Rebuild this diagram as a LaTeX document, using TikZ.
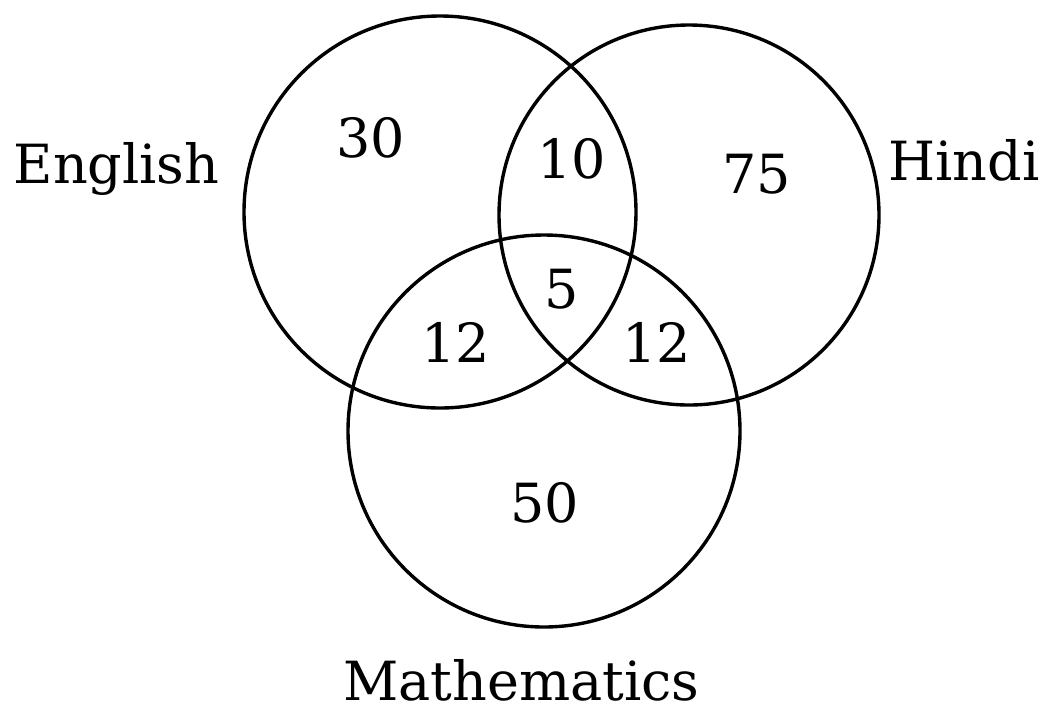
\documentclass[tikz,border=0pt]{standalone}
\usepackage{fontspec}
\setmainfont{DejaVu Serif}
\begin{document}
\begin{tikzpicture}[x=1pt,y=-1pt,
  setcircle/.style={draw=black,line width=3.4pt},
  lbl/.style={anchor=base,inner sep=0pt,font=\fontsize{54}{62}\selectfont}]
\fill[white] (0,0) rectangle (1042,713);
\useasboundingbox (0,0) rectangle (1042,713);
\node[setcircle,circle,minimum size=392pt,inner sep=0pt] (E) at (440,212) {};
\node[setcircle,circle,minimum size=380pt,inner sep=0pt] (H) at (689,215) {};
\node[setcircle,circle,minimum size=392pt,inner sep=0pt] (M) at (544,431) {};
\node[lbl] (lE) at (116.5,183) {English};
\node[lbl] (lH) at (964,180) {Hindi};
\node[lbl] (lM) at (521.5,700) {Mathematics};
\node[lbl] (n30) at (371,157) {30};
\node[lbl] (n10) at (572,178) {10};
\node[lbl] (n75) at (757,193) {75};
\node[lbl] (n5) at (562,308) {5};
\node[lbl] (n12a) at (456,362) {12};
\node[lbl] (n12b) at (657,362) {12};
\node[lbl] (n50) at (545,522) {50};
\end{tikzpicture}
\end{document}
